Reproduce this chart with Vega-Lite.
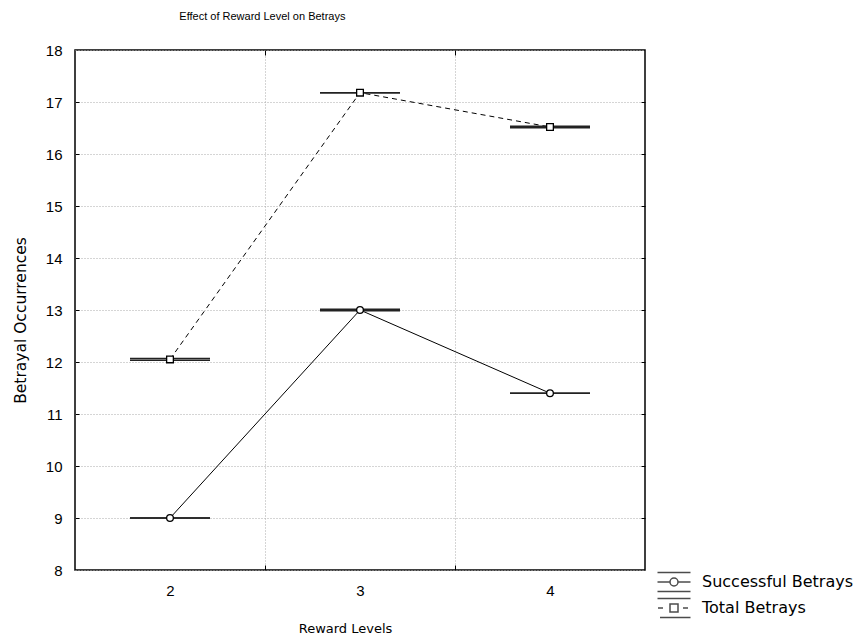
{
  "$schema": "https://vega.github.io/schema/vega-lite/v6.json",
  "width": 570,
  "height": 520,
  "autosize": "none",
  "padding": {"left": 75, "top": 50, "right": 218, "bottom": 69},
  "background": "white",
  "title": {"text": "Effect of Reward Level on Betrays", "anchor": "start", "dx": 166, "offset": 21, "font": "Liberation Sans", "fontSize": 11, "fontWeight": "normal", "color": "#000"},
  "config": {
    "view": {"stroke": "#000", "strokeWidth": 1.5},
    "axis": {"labelFont": "Liberation Sans", "labelFontSize": 15, "labelColor": "#000", "titleFont": "DejaVu Sans", "titleFontSize": 13, "titleFontWeight": "normal", "titleColor": "#000", "domain": false, "gridColor": "#aaaaaa", "gridDash": [1, 2], "gridWidth": 1, "tickColor": "#000"}
  },
  "data": {"values": [
    {"level": 2, "series": "Successful Betrays", "value": 9.0, "lo": 9.0, "hi": 9.0},
    {"level": 3, "series": "Successful Betrays", "value": 13.0, "lo": 12.985, "hi": 13.015},
    {"level": 4, "series": "Successful Betrays", "value": 11.4, "lo": 11.4, "hi": 11.4},
    {"level": 2, "series": "Total Betrays", "value": 12.05, "lo": 12.035, "hi": 12.065},
    {"level": 3, "series": "Total Betrays", "value": 17.18, "lo": 17.18, "hi": 17.18},
    {"level": 4, "series": "Total Betrays", "value": 16.52, "lo": 16.505, "hi": 16.535}
  ]},
  "resolve": {"axis": {"x": "independent", "y": "independent"}},
  "layer": [
    {
      "transform": [{"filter": "datum.series === 'Successful Betrays'"}],
      "mark": {"type": "line", "color": "#000", "strokeWidth": 1},
      "encoding": {
        "x": {"field": "level", "type": "quantitative", "scale": {"domain": [1.5, 4.5], "nice": false, "zero": false},
              "axis": {"values": [2, 3, 4], "ticks": false, "grid": false, "labelPadding": 13, "title": "Reward Levels", "titlePadding": 24, "titleX": 270, "format": "d"}},
        "y": {"field": "value", "type": "quantitative", "scale": {"domain": [8, 18], "nice": false, "zero": false},
              "axis": {"values": [8, 9, 10, 11, 12, 13, 14, 15, 16, 17, 18], "ticks": false, "grid": true, "labelPadding": 13, "title": "Betrayal Occurrences", "titleFontSize": 15.5, "titlePadding": 17, "titleY": 270}}
      }
    },
    {
      "transform": [{"filter": "datum.series === 'Total Betrays'"}],
      "mark": {"type": "line", "color": "#000", "strokeWidth": 1, "strokeDash": [5, 4]},
      "encoding": {
        "x": {"field": "level", "type": "quantitative", "axis": null},
        "y": {"field": "value", "type": "quantitative", "axis": null}
      }
    },
    {
      "mark": {"type": "tick", "orient": "horizontal", "color": "#222", "size": 80, "thickness": 1.5, "opacity": 1},
      "encoding": {
        "x": {"field": "level", "type": "quantitative", "axis": {"orient": "bottom", "values": [2.5, 3.5], "labels": false, "title": null, "grid": true, "tickSize": -5, "ticks": true}},
        "y": {"field": "lo", "type": "quantitative", "axis": {"orient": "right", "values": [9, 10, 11, 12, 13, 14, 15, 16, 17], "labels": false, "title": null, "grid": false, "tickSize": -4}}
      }
    },
    {
      "mark": {"type": "tick", "orient": "horizontal", "color": "#222", "size": 80, "thickness": 1.5, "opacity": 1},
      "encoding": {
        "x": {"field": "level", "type": "quantitative", "axis": {"orient": "top", "values": [2.5, 3.5], "labels": false, "title": null, "grid": false, "tickSize": -5}},
        "y": {"field": "hi", "type": "quantitative", "axis": {"orient": "left", "values": [9, 10, 11, 12, 13, 14, 15, 16, 17], "labels": false, "title": null, "grid": false, "tickSize": -4}}
      }
    },
    {
      "transform": [{"filter": "datum.series === 'Successful Betrays'"}],
      "mark": {"type": "point", "shape": "circle", "filled": true, "fill": "#fff", "stroke": "#000", "strokeWidth": 1.3, "size": 45, "opacity": 1},
      "encoding": {
        "x": {"field": "level", "type": "quantitative", "axis": null},
        "y": {"field": "value", "type": "quantitative", "axis": null}
      }
    },
    {
      "transform": [{"filter": "datum.series === 'Total Betrays'"}],
      "mark": {"type": "point", "shape": "square", "filled": true, "fill": "#fff", "stroke": "#000", "strokeWidth": 1.3, "size": 45, "opacity": 1},
      "encoding": {
        "x": {"field": "level", "type": "quantitative", "axis": null},
        "y": {"field": "value", "type": "quantitative", "axis": null}
      }
    },
    {
      "mark": {"type": "point", "filled": true, "fill": "#fff", "stroke": "#000", "strokeWidth": 1.5, "size": 0},
      "encoding": {
        "x": {"field": "level", "type": "quantitative", "axis": null},
        "y": {"field": "value", "type": "quantitative", "axis": null},
        "shape": {"field": "series", "type": "nominal",
          "scale": {"domain": ["Successful Betrays", "Total Betrays"],
                    "range": ["M-1.65,-0.95H1.65M-1.65,0.95H1.65M-1.65,0H-0.4M0.4,0H1.65M-0.4,0A0.4,0.4 0 1,1 0.4,0A0.4,0.4 0 1,1 -0.4,0Z",
                              "M-1.65,-0.95H1.65M-1.4,0.95H1.65M-1.6,0H-1.1M0.9,0H1.4M-0.4,-0.4H0.4V0.4H-0.4Z"]},
          "legend": {"title": null, "orient": "none", "legendX": 588, "legendY": 521, "padding": 0, "rowPadding": 0,
                     "symbolSize": 400, "symbolStrokeWidth": 1.5,
                     "labelFont": "DejaVu Sans", "labelFontSize": 16, "labelColor": "#000", "labelOffset": 17}}
      }
    }
  ]
}
